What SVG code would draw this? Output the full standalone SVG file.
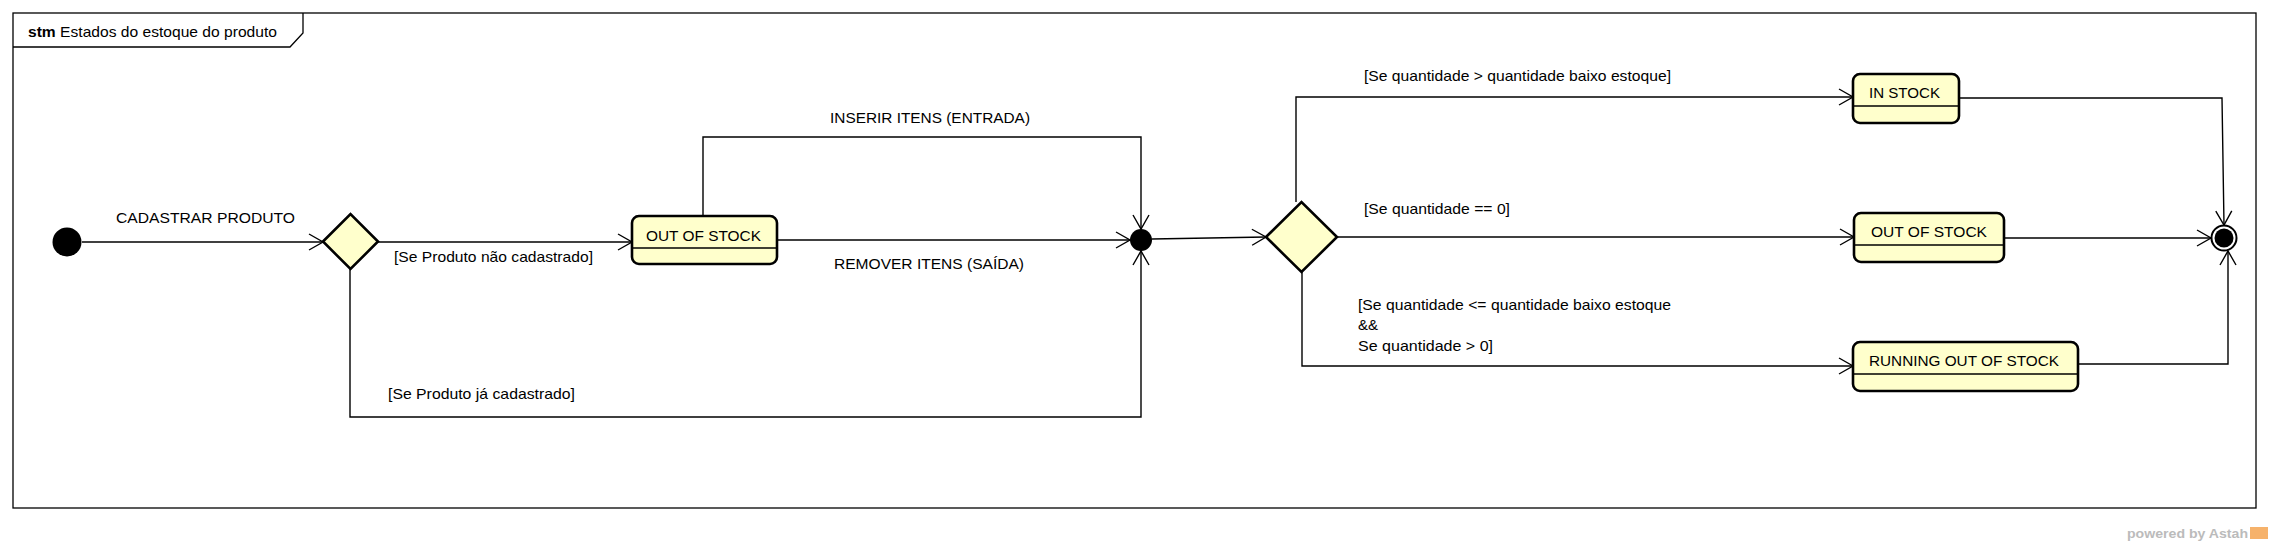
<svg xmlns="http://www.w3.org/2000/svg" width="2270" height="548" viewBox="0 0 2270 548">
<defs>
<style>
.t{font-family:"Liberation Sans",Arial,sans-serif;font-size:15px;fill:#000}
.st{fill:#FFFFCC;stroke:#000;stroke-width:2.6}
.dv{stroke:#000;stroke-width:1.3}
.c{fill:none;stroke:#000;stroke-width:1.4}
</style>
<marker id="a" markerUnits="userSpaceOnUse" markerWidth="20" markerHeight="20" viewBox="0 0 20 20" refX="15" refY="10" orient="auto">
<path d="M1,2 L15,10 L1,18" fill="none" stroke="#000" stroke-width="1.4"/>
</marker>
</defs>
<rect width="2270" height="548" fill="#fff"/>
<g id="frame">
<rect x="13" y="13" width="2243" height="495" fill="none" stroke="#000" stroke-width="1.3"/>
<path d="M13,47 L290,47 L303,33 L303,13" fill="none" stroke="#000" stroke-width="1.3"/>
<text class="t" x="28" y="37" textLength="249" lengthAdjust="spacingAndGlyphs"><tspan font-weight="bold">stm</tspan> Estados do estoque do produto</text>
</g>
<g id="connectors">
<path class="c" d="M82,242 L323,242" marker-end="url(#a)"/>
<path class="c" d="M378,242 L632,242" marker-end="url(#a)"/>
<path class="c" d="M350,269 L350,417 L1141,417 L1141,251" marker-end="url(#a)"/>
<path class="c" d="M703,216 L703,137 L1141,137 L1141,229" marker-end="url(#a)"/>
<path class="c" d="M777,240 L1130,240" marker-end="url(#a)"/>
<path class="c" d="M1152,239 L1266,237" marker-end="url(#a)"/>
<path class="c" d="M1296,202 L1296,97 L1853,97" marker-end="url(#a)"/>
<path class="c" d="M1337,237 L1854,237" marker-end="url(#a)"/>
<path class="c" d="M1302,272 L1302,366 L1853,366" marker-end="url(#a)"/>
<path class="c" d="M1959,98 L2222,98 L2224,225" marker-end="url(#a)"/>
<path class="c" d="M2004,238 L2211,238" marker-end="url(#a)"/>
<path class="c" d="M2078,364 L2228,364 L2228,251" marker-end="url(#a)"/>
<text class="t" x="116" y="223" textLength="179" lengthAdjust="spacingAndGlyphs">CADASTRAR PRODUTO</text>
<text class="t" x="394" y="262" textLength="199" lengthAdjust="spacingAndGlyphs">[Se Produto não cadastrado]</text>
<text class="t" x="388" y="399" textLength="187" lengthAdjust="spacingAndGlyphs">[Se Produto já cadastrado]</text>
<text class="t" x="830" y="123" textLength="200" lengthAdjust="spacingAndGlyphs">INSERIR ITENS (ENTRADA)</text>
<text class="t" x="834" y="269" textLength="190" lengthAdjust="spacingAndGlyphs">REMOVER ITENS (SAÍDA)</text>
<text class="t" x="1364" y="81" textLength="307" lengthAdjust="spacingAndGlyphs">[Se quantidade &gt; quantidade baixo estoque]</text>
<text class="t" x="1364" y="214" textLength="146" lengthAdjust="spacingAndGlyphs">[Se quantidade == 0]</text>
<text class="t" x="1358" y="310" textLength="313" lengthAdjust="spacingAndGlyphs">[Se quantidade &lt;= quantidade baixo estoque</text>
<text class="t" x="1358" y="330">&amp;&amp;</text>
<text class="t" x="1358" y="351" textLength="135" lengthAdjust="spacingAndGlyphs">Se quantidade &gt; 0]</text>
</g>
<g id="initial">
<circle cx="67" cy="242" r="14.5" fill="#000"/>
</g>
<g id="decision1">
<polygon class="st" points="323,241.5 350.5,214 378,241.5 350.5,269"/>
</g>
<g id="state-out-of-stock-1">
<rect class="st" x="632" y="216" width="145" height="48" rx="7"/>
<line class="dv" x1="632" y1="248" x2="777" y2="248"/>
<text class="t" x="646" y="241" textLength="115" lengthAdjust="spacingAndGlyphs">OUT OF STOCK</text>
</g>
<g id="junction">
<circle cx="1141" cy="240" r="11" fill="#000"/>
</g>
<g id="decision2">
<polygon class="st" points="1266,237 1301.5,202 1337,237 1301.5,272"/>
</g>
<g id="state-in-stock">
<rect class="st" x="1853" y="74" width="106" height="49" rx="7"/>
<line class="dv" x1="1853" y1="106" x2="1959" y2="106"/>
<text class="t" x="1869" y="98" textLength="71" lengthAdjust="spacingAndGlyphs">IN STOCK</text>
</g>
<g id="state-out-of-stock-2">
<rect class="st" x="1854" y="213" width="150" height="49" rx="7"/>
<line class="dv" x1="1854" y1="245" x2="2004" y2="245"/>
<text class="t" x="1871" y="237" textLength="116" lengthAdjust="spacingAndGlyphs">OUT OF STOCK</text>
</g>
<g id="state-running-out">
<rect class="st" x="1853" y="342" width="225" height="49" rx="7"/>
<line class="dv" x1="1853" y1="374" x2="2078" y2="374"/>
<text class="t" x="1869" y="366" textLength="190" lengthAdjust="spacingAndGlyphs">RUNNING OUT OF STOCK</text>
</g>
<g id="final">
<circle cx="2224" cy="238" r="12.5" fill="#fff" stroke="#000" stroke-width="2"/>
<circle cx="2224" cy="238" r="9.5" fill="#000"/>
</g>
<g id="watermark">
<text x="2127" y="538" font-family="'Liberation Sans',Arial,sans-serif" font-size="13" font-weight="bold" fill="#BBBBBB" textLength="121" lengthAdjust="spacingAndGlyphs">powered by Astah</text>
<rect x="2250" y="527" width="18" height="12" fill="#F6B26B"/>
</g>
</svg>
